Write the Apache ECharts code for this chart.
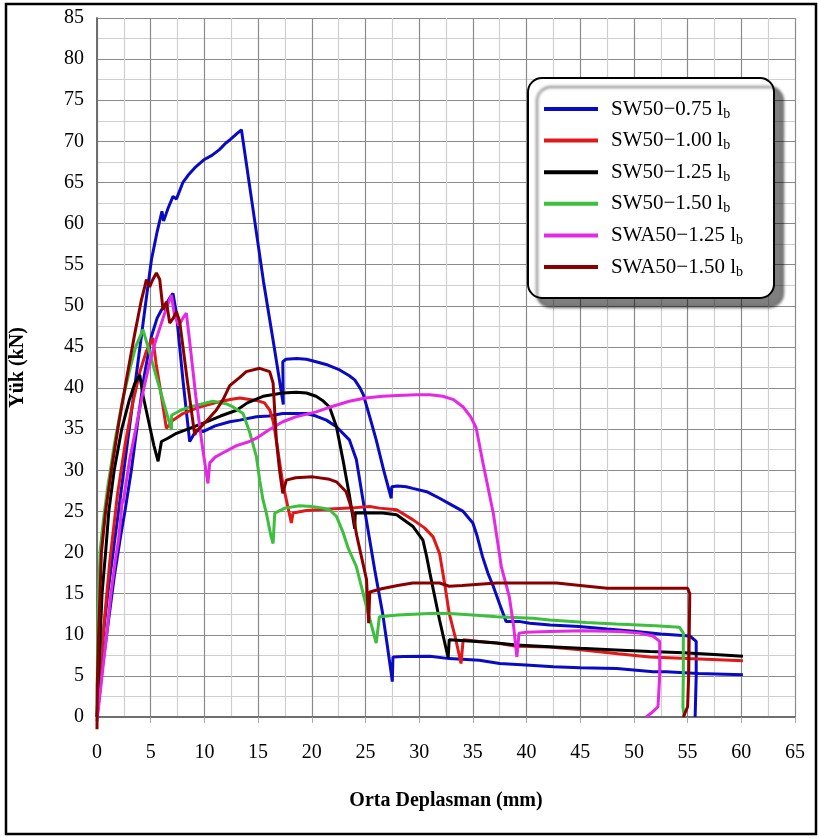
<!DOCTYPE html>
<html>
<head>
<meta charset="utf-8">
<script src="https://cdn.jsdelivr.net/npm/echarts@6/dist/echarts.min.js"></script>
<style>
  html, body { margin: 0; padding: 0; background: #fff; }
  #chart { width: 819px; height: 838px; }
</style>
</head>
<body>
<div id="chart"></div>
<script>
// Load–deflection curves, [mid-span displacement (mm), load (kN)]
const seriesNames = ['SW50−0.75', 'SW50−1.00', 'SW50−1.25', 'SW50−1.50', 'SWA50−1.25', 'SWA50−1.50'];
const seriesColors = ['#0a0ac4', '#e01818', '#000000', '#3cbf3c', '#e428e4', '#8a0000'];

const sw075a = [[0,0],[0.5,9],[1.0,15],[1.6,21],[2.2,27],[2.8,33],[3.4,39],[4.0,45],[4.6,51],[5.07,55.6],[5.6,59],[6.05,61.5],[6.2,60.3],[6.6,61.8],[7.08,63.3],[7.4,63],[8.0,65],[8.5,65.9],[9.2,66.9],[10.0,67.8],[10.7,68.3],[11.4,69],[12.0,69.8],[12.4,70.2],[13.0,70.9],[13.45,71.4],[14.5,62],[15.5,53],[16.5,45],[17.35,38],[17.3,43.2],[17.6,43.5],[18.6,43.6],[19.5,43.5],[20.4,43.2],[21.5,42.8],[22.6,42.2],[23.5,41.5],[24.0,41.0],[24.5,40],[24.8,39.2],[25.4,36.5],[26.0,33.7],[26.7,30],[27.4,26.6],[27.45,28.0],[28.0,28.1],[28.8,28.0],[29.4,27.8],[30.7,27.4],[31.9,26.6],[33.0,25.8],[34.1,25.0],[35.0,23.6],[35.4,22],[35.9,19.5],[36.4,17.5],[36.9,15.9],[37.5,13.7],[38.1,11.6],[39.4,11.6],[40.3,11.4],[42.2,11.2],[44.9,11.0],[47.5,10.7],[50.2,10.4],[52.5,10.1],[55.2,9.85],[55.8,9.2],[55.8,5],[55.7,0]];
const sw075b = [[0,0],[0.5,6],[1.0,11],[1.6,17],[2.2,22],[2.6,25],[3.2,30],[3.8,36],[4.4,41.5],[5.07,46.3],[5.6,48.5],[6.0,49.5],[6.5,50.3],[6.8,51.0],[7.08,51.5],[7.4,49],[8.0,41],[8.63,33.5],[9.25,34.9],[9.87,34.7],[11.0,35.4],[12.36,35.9],[13.3,36.1],[14.84,36.5],[16.0,36.6],[17.3,36.9],[17.9,36.9],[19.5,36.9],[20.4,36.6],[21.36,36.1],[22.3,35.3],[23.5,33.7],[24.15,31.3],[24.77,26.4],[25.4,21.5],[25.86,17.9],[26.6,12.6],[27.0,9],[27.4,5.3],[27.5,4.3],[27.56,7.3],[28.5,7.35],[31,7.4],[32.8,7.1],[35.6,6.9],[37.5,6.5],[40.3,6.3],[42.5,6.1],[45,6.0],[48.4,5.9],[51.8,5.5],[53,5.5],[56,5.3],[60.15,5.15]];
const sw100 = [[0,0],[0.3,6],[0.7,12],[1.2,19],[1.9,27],[2.6,33],[3.3,38],[4.0,42],[4.6,44.5],[5.2,46.1],[5.5,43],[6.0,39],[6.46,35.1],[7.08,36.1],[8.0,36.9],[9.56,37.7],[11.0,38.2],[12.4,38.6],[13.3,38.8],[14.84,38.5],[15.6,38.2],[16.1,37.3],[16.4,36],[16.7,33.7],[17.3,28.4],[18.1,23.6],[18.25,24.8],[19.5,25.1],[21.65,25.3],[23.5,25.4],[25.4,25.6],[26.3,25.4],[27.9,25.2],[29.4,24.0],[30.5,23.0],[31.3,21.9],[31.9,19.9],[32.4,16],[32.8,12.6],[33.4,9.5],[33.9,6.5],[34.1,9.4],[35.5,9.2],[37.2,9.0],[39.05,8.6],[42.15,8.5],[45.25,8.15],[48.5,7.7],[51.5,7.3],[55,7.1],[60.15,6.85]];
const sw125 = [[0,0],[0.2,7],[0.47,15],[0.8,20],[1.1,25],[1.6,30],[2.3,35],[3.0,38.5],[3.5,40.5],[3.98,41.6],[4.3,39],[4.8,36],[5.3,33],[5.69,31.1],[6.0,33.5],[6.6,33.9],[7.4,34.5],[8.63,35.1],[10.2,35.9],[11.5,36.6],[13,37.3],[14.0,38.2],[15.46,39.0],[17.3,39.4],[18.57,39.5],[19.5,39.4],[20.4,39.0],[21.0,38.5],[21.65,37.7],[22.3,35.3],[22.9,31.3],[23.5,27],[24.0,22.9],[24.05,24.85],[26.6,24.8],[27.9,24.6],[29.4,23.2],[30.35,21.5],[30.7,19.5],[31,17.5],[31.9,11.8],[32.7,7.2],[32.8,9.4],[35,9.2],[37.2,9.0],[39.05,8.75],[42.15,8.55],[45,8.35],[48.35,8.15],[51.5,7.95],[54.6,7.8],[57.5,7.6],[60.15,7.4]];
const sw150 = [[0,0],[0.05,8],[0.15,15],[0.3,20.3],[0.6,24],[1.0,28],[1.6,33],[2.3,38],[3.0,42],[3.6,45],[4.28,47.1],[4.75,45.0],[5.5,41.5],[6.3,37.8],[6.93,34.9],[6.95,36.7],[7.8,37.3],[8.63,37.7],[10.8,38.4],[12.0,38.1],[12.66,37.7],[13.6,36.9],[14.2,34.7],[14.84,31.7],[15.15,28.8],[15.46,26.4],[15.77,24.8],[16.2,22],[16.4,21.1],[16.55,24.8],[17.5,25.4],[18.87,25.7],[20.0,25.6],[21.04,25.4],[21.65,25.2],[22.3,24.4],[22.9,22.5],[23.4,20.5],[24.15,18.3],[25.1,13.4],[26.0,9.0],[26.3,12.2],[28,12.4],[30.97,12.6],[32.8,12.6],[35,12.4],[37.2,12.2],[40.6,12.0],[42.15,11.8],[45.56,11.5],[48.35,11.3],[52,11.1],[54.25,10.9],[54.6,10.2],[54.6,5],[54.56,1.25],[54.7,0]];
const swa125 = [[0,-0.5],[0.3,3],[0.56,6.1],[0.9,10],[1.3,15],[1.7,19],[2.0,21.5],[2.2,24],[2.35,26.5],[2.42,26.0],[2.6,27.5],[3.04,31.3],[3.6,35],[4.2,39],[4.8,42.5],[5.4,45.5],[5.9,47.5],[6.4,49.5],[6.93,51.3],[7.2,49],[7.6,47.6],[8.0,48.5],[8.32,49.1],[8.6,46],[9.2,39],[9.8,33],[10.33,28.4],[10.5,30.9],[11.0,31.6],[11.7,32.1],[13.0,33.0],[14.2,33.5],[14.84,33.9],[16,34.9],[17.3,35.9],[18.5,36.5],[20.43,37.1],[21.5,37.6],[23.5,38.4],[25,38.8],[26.6,39.0],[28,39.1],[29.7,39.2],[31,39.2],[32.2,39.0],[33.2,38.6],[34.1,37.7],[34.8,36.5],[35.3,35.2],[35.94,30.9],[36.9,24.8],[37.65,18.3],[38.4,14.6],[38.8,11],[39.1,7.3],[39.3,10.2],[40,10.3],[42.15,10.4],[45.25,10.5],[48.66,10.4],[50.5,10.2],[51.77,9.85],[52.4,9.2],[52.4,5],[52.24,1.25],[51.77,0.65],[51.15,0]];
const swa150 = [[0,-1.5],[0.03,4],[0.15,10],[0.41,20],[0.8,25],[1.34,30],[2.0,35.5],[2.8,41.5],[3.5,46.5],[4.1,50.5],[4.44,52.3],[4.6,53.2],[4.9,52.3],[5.2,53.2],[5.53,54.0],[5.84,53.2],[6.15,49.5],[6.46,50.5],[6.77,47.9],[7.1,48.5],[7.39,49.3],[7.7,48.1],[8.4,41],[9.1,34.3],[9.25,34.7],[10.2,36],[11.1,37.3],[11.74,38.6],[12.36,40.3],[13.3,41.3],[13.9,42.0],[15.15,42.4],[16.08,42.0],[16.4,40.6],[16.7,33.7],[17.0,30],[17.3,27.2],[17.63,28.8],[18.5,29.1],[20.1,29.2],[21.65,28.9],[22.3,28.6],[23.2,27.4],[23.84,24.8],[24.15,22.3],[25.1,16.7],[25.3,11.4],[25.4,15.2],[26.5,15.6],[28,16.0],[29.4,16.3],[31.9,16.3],[32.8,15.9],[34,16.0],[37.2,16.3],[40.0,16.3],[42.8,16.3],[45,16.0],[47.5,15.65],[51,15.65],[55.0,15.65],[55.2,15.0],[55.1,5],[55.0,1.25],[54.6,0]];

// Which curve belongs to which specimen (index into seriesNames)
const curves = [
  { idx: 0, data: sw075a },
  { idx: 0, data: sw075b },
  { idx: 1, data: sw100 },
  { idx: 2, data: sw125 },
  { idx: 3, data: sw150 },
  { idx: 4, data: swa125 },
  { idx: 5, data: swa150 }
];

const serif = '"Liberation Serif", "Times New Roman", serif';
const chart = echarts.init(document.getElementById('chart'), null, { renderer: 'canvas' });

const axisCommon = {
  type: 'value',
  interval: 5,
  axisLine: { show: true, lineStyle: { color: '#6e6e6e', width: 2 } },
  axisTick: { show: false },
  axisLabel: { color: '#000', fontFamily: serif, fontSize: 20 },
  splitLine: { show: true, lineStyle: { color: '#8a8a8a', width: 1.2 } },
  minorTick: { show: false, splitNumber: 2 },
  minorSplitLine: { show: true, lineStyle: { color: '#cfcfcf', width: 1.2 } },
  nameLocation: 'middle',
  nameTextStyle: { color: '#000', fontFamily: serif, fontSize: 20, fontWeight: 'bold' }
};

chart.setOption({
  animation: false,
  backgroundColor: '#fff',
  grid: { left: 97, top: 18, width: 698, height: 699 },
  xAxis: Object.assign({}, axisCommon, {
    min: 0, max: 65,
    name: 'Orta Deplasman (mm)',
    nameGap: 74,
    axisTick: { show: true, length: 6, lineStyle: { color: '#aaaaaa' } },
    axisLabel: Object.assign({}, axisCommon.axisLabel, { margin: 26 })
  }),
  yAxis: Object.assign({}, axisCommon, {
    min: 0, max: 85,
    name: 'Yük (kN)',
    nameGap: 69,
    axisLabel: Object.assign({}, axisCommon.axisLabel, { margin: 13 })
  }),
  legend: {
    orient: 'vertical',
    left: 528, top: 78,
    data: seriesNames,
    icon: 'rect',
    itemWidth: 54, itemHeight: 4,
    itemGap: 7.6,
    padding: [19, 31, 19, 16],
    backgroundColor: '#fff',
    borderColor: '#000', borderWidth: 2, borderRadius: 14,
    shadowColor: 'rgba(0,0,0,0.5)', shadowBlur: 3, shadowOffsetX: 9, shadowOffsetY: 9,
    formatter: function (name) { return '{m|' + name + ' l}{s|b}'; },
    textStyle: {
      color: '#000', fontFamily: serif, fontSize: 21,
      rich: {
        m: { fontFamily: serif, fontSize: 21, lineHeight: 24, padding: [0, 0, 0, 8], color: '#000' },
        s: { fontFamily: serif, fontSize: 14, lineHeight: 24, padding: [10, 0, 0, 0], color: '#000' }
      }
    }
  },
  graphic: [{
    type: 'rect', z: 100, silent: true,
    shape: { x: 6, y: 4, width: 810, height: 830 },
    style: { fill: null, stroke: '#000', lineWidth: 2.5 }
  }],
  series: curves.map(c => ({
    type: 'line',
    name: seriesNames[c.idx],
    data: c.data,
    showSymbol: false,
    clip: false,
    color: seriesColors[c.idx],
    lineStyle: { color: seriesColors[c.idx], width: 3 }
  }))
});
</script>
</body>
</html>
